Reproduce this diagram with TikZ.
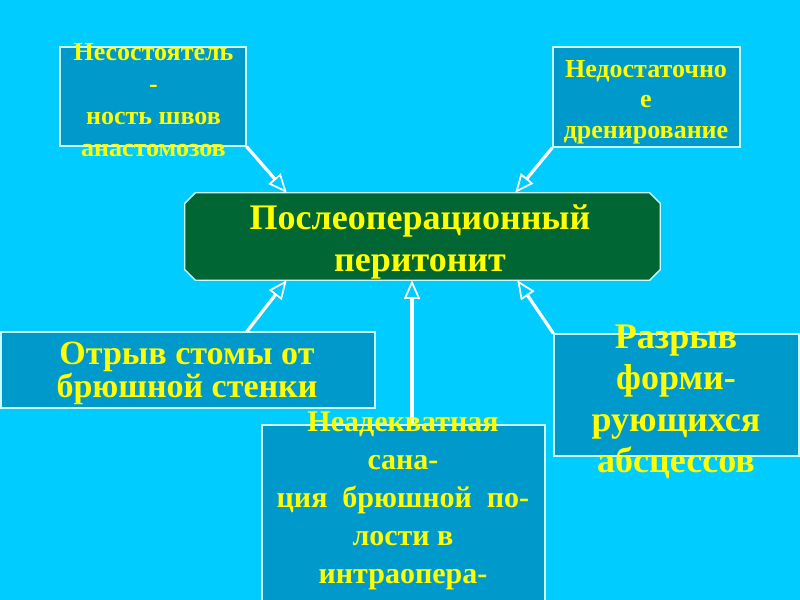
\documentclass[tikz,border=0pt]{standalone}
\usepackage{fontspec}
\setmainfont{Liberation Serif}
\usetikzlibrary{arrows.meta}
\definecolor{sky}{HTML}{00CCFF}
\definecolor{boxblue}{HTML}{0099CC}
\definecolor{darkgreen}{HTML}{006633}
\definecolor{edge}{HTML}{CCFFFF}
\definecolor{label}{HTML}{FFFF00}
\tikzset{
  cause/.style={draw=edge,line width=1pt,fill=boxblue,inner sep=0pt},
  txt/.style 2 args={text=label,align=center,inner sep=0pt,font=\bfseries\fontsize{#1}{#2}\selectfont},
  link/.style={draw=white,line width=2.4pt,-{Triangle[open,length=14pt,width=12pt,line width=1.3pt]}}
}
\begin{document}
\begin{tikzpicture}[x=0.75pt,y=-0.75pt]
	\fill[sky] (0,0) rectangle (800,600);
	\useasboundingbox (0,0) rectangle (800,600);
	\clip (0,0) rectangle (800,600);
	% boxes
	\node[cause,minimum width=186*0.75pt,minimum height=99*0.75pt] (tl) at (153,96.5) {};
	\node[cause,minimum width=187*0.75pt,minimum height=100*0.75pt] (tr) at (646.5,97) {};
	\node[cause,minimum width=374*0.75pt,minimum height=76*0.75pt] (bl) at (188,370) {};
	\node[cause,minimum width=283*0.75pt,minimum height=200*0.75pt] (bm) at (403.5,525) {};
	\node[cause,minimum width=245*0.75pt,minimum height=122*0.75pt] (br) at (676.5,395) {};
	\node[inner sep=0pt,minimum width=475*0.75pt,minimum height=87*0.75pt] (c) at (422.5,236.5) {};
	\draw[draw=edge,line width=1pt,fill=darkgreen]
		([xshift=8pt]c.north west) -- ([xshift=-8pt]c.north east) -- ([yshift=-8pt]c.north east)
		-- ([yshift=8pt]c.south east) -- ([xshift=-8pt]c.south east) -- ([xshift=8pt]c.south west)
		-- ([yshift=8pt]c.south west) -- ([yshift=-8pt]c.north west) -- cycle;
	% arrows
	\draw[link] (tl.south east) -- ([xshift=102*0.75pt]c.north west);
	\draw[link] (tr.south west) -- ([xshift=-145*0.75pt]c.north east);
	\draw[link] ([xshift=59*0.75pt]bl.north) -- ([xshift=102*0.75pt]c.south west);
	\draw[link] ([xshift=8.5*0.75pt]bm.north) -- ([xshift=-10.5*0.75pt]c.south);
	\draw[link] (br.north west) -- ([xshift=-143*0.75pt]c.south east);
	% texts
	\node[txt={19.5}{24}] (tlt) at (153.5,100) {Несостоятель\\-\\ность швов\\анастомозов};
	\node[txt={19.5}{23}] (trt) at (646,102) {Недостаточно\\е\\дренирование};
	\node[txt={27}{32}] (ct) at (420,242) {Послеоперационный\\перитонит};
	\node[txt={25.5}{22}] (blt) at (187,373) {Отрыв стомы от\\брюшной стенки};
	\node[txt={22.5}{28.5}] (bmt) at (403,501) {Неадекватная\\сана-\\ция\ \ брюшной\ \ по-\\лости в\\интраопера-};
	\node[txt={27}{31}] (brt) at (676,402) {Разрыв\\форми-\\рующихся\\абсцессов};
\end{tikzpicture}
\end{document}
